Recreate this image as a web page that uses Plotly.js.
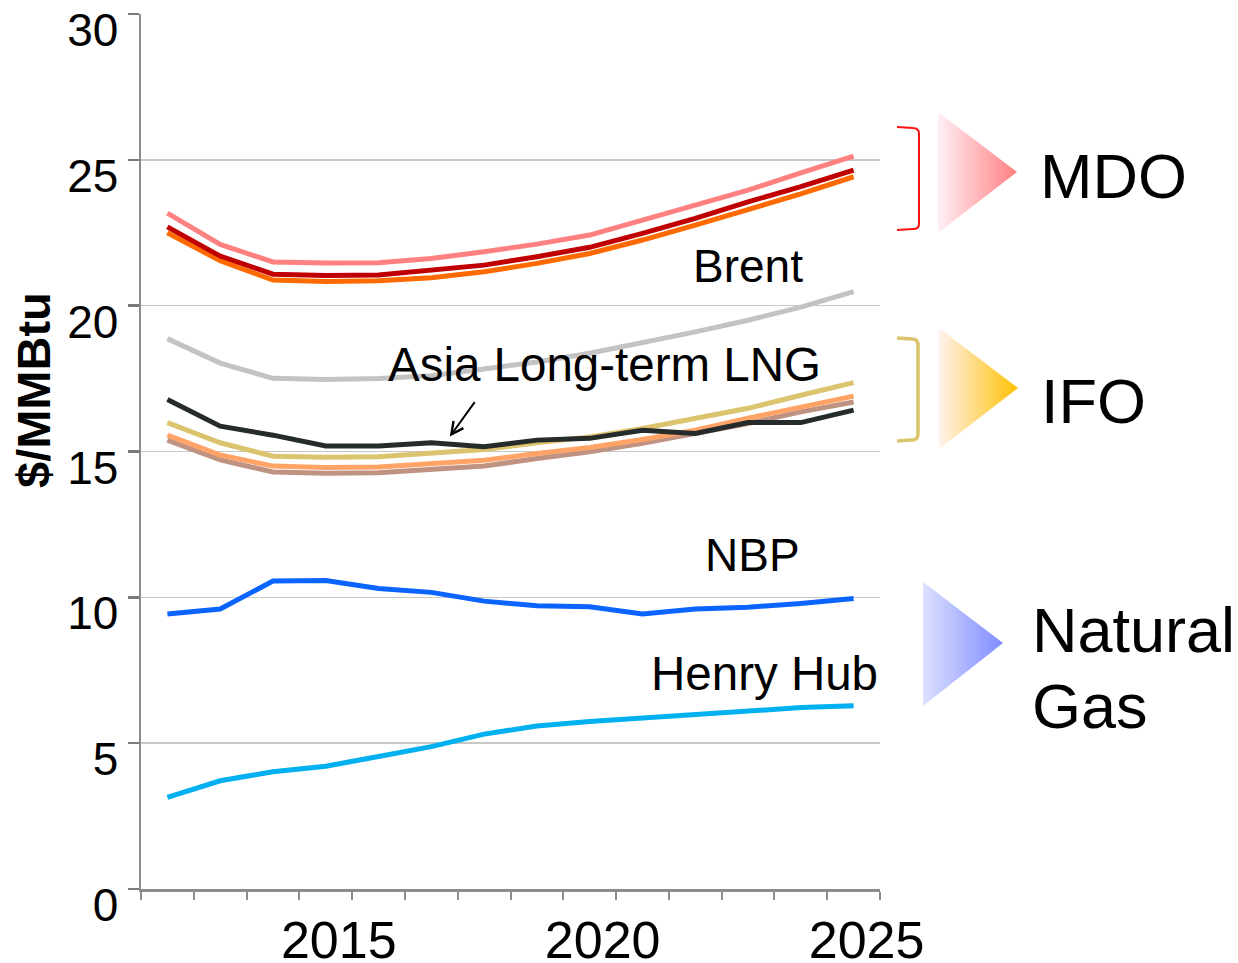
<!DOCTYPE html>
<html>
<head>
<meta charset="utf-8">
<script src="https://cdn.plot.ly/plotly-3.0.1.min.js"></script>
<style>html,body{margin:0;padding:0;background:#fff;}#chart{width:1238px;height:963px;}</style>
</head>
<body>
<div id="chart"></div>
<script>
// ---- data ----
var years = [2012,2013,2014,2015,2016,2017,2018,2019,2020,2021,2022,2023,2024,2025];
var mdoHigh = [23.17,22.1,21.5,21.46,21.47,21.62,21.85,22.11,22.42,22.93,23.45,23.96,24.55,25.13];
var mdoMid  = [22.7,21.7,21.08,21.03,21.05,21.2,21.39,21.68,22.0,22.48,22.99,23.56,24.08,24.65];
var mdoLow  = [22.5,21.54,20.88,20.83,20.85,20.96,21.16,21.45,21.79,22.25,22.76,23.28,23.83,24.42];
var brent   = [18.87,18.03,17.51,17.47,17.5,17.6,17.83,18.07,18.37,18.72,19.1,19.5,19.95,20.48];
var asiaLng = [16.78,15.87,15.56,15.19,15.19,15.3,15.16,15.39,15.45,15.73,15.62,15.99,15.99,16.42];
var ifoHigh = [15.99,15.3,14.84,14.8,14.82,14.93,15.07,15.3,15.5,15.79,16.14,16.48,16.93,17.36];
var ifoMid  = [15.56,14.88,14.5,14.45,14.47,14.57,14.7,14.93,15.14,15.41,15.73,16.14,16.51,16.9];
var ifoLow  = [15.39,14.71,14.3,14.25,14.27,14.37,14.5,14.76,14.99,15.28,15.6,15.96,16.36,16.7];
var nbp     = [9.43,9.6,10.56,10.58,10.3,10.17,9.87,9.71,9.68,9.43,9.6,9.66,9.79,9.96];
var henryHub= [3.14,3.71,4.02,4.21,4.54,4.88,5.31,5.59,5.74,5.85,6.0,6.1,6.22,6.28];
var yearTickVals = [2015,2020,2025];
var yearTickText = ['2015','2020','2025'];
var yTickVals = [0,5,10,15,20,25,30];
var yTickText = ['0','5','10','15','20','25','30'];

var FONT = 'Liberation Sans, Arial, sans-serif';
var W = 1238, H = 963;

function line(name, y, color, xa){
  return {type:'scatter', mode:'lines', name:name, x:years, y:y,
    xaxis: xa || 'x', yaxis:'y',
    line:{color:color, width:5}, hoverinfo:'skip'};
}

// decoration triangles (pixel space subplot x2/y2)
function tri(pts, c0, c1){
  return {type:'scatter', mode:'lines', xaxis:'x2', yaxis:'y2',
    x:[pts[0][0],pts[1][0],pts[2][0],pts[0][0]],
    y:[pts[0][1],pts[1][1],pts[2][1],pts[0][1]],
    fill:'toself', line:{width:0, color:'rgba(0,0,0,0)'},
    fillgradient:{type:'horizontal', colorscale:[[0,c0],[1,c1]]},
    hoverinfo:'skip', showlegend:false};
}

var traces = [
  line('Brent', brent, '#c3c3c3'),
  line('IFO (low)', ifoLow, '#bf9282'),
  line('IFO (mid)', ifoMid, '#ffa466'),
  line('IFO (high)', ifoHigh, '#dcc46e'),
  line('Asia Long-term LNG', asiaLng, '#262b2b'),
  line('MDO (low)', mdoLow, '#ff6a00'),
  line('MDO (mid)', mdoMid, '#c00000'),
  line('MDO (high)', mdoHigh, '#ff8080'),
  line('NBP', nbp, '#0a64ff'),
  line('Henry Hub', henryHub, '#00b0f0', 'x3'),
  tri([[938,112],[1017,172],[938,233]], '#fff0f6', '#ff7f80'),
  tri([[939,328],[1018,388],[939,449]], '#fff2ee', '#ffc000'),
  tri([[923,582],[1003,643],[923,706]], '#dde1ff', '#7f8cff')
];

var tickFontY = {family:FONT, size:46, color:'#000'};
var axisGray = '#8c8c8c';

var layout = {
  width:W, height:H,
  margin:{l:0, r:0, t:0, b:0},
  paper_bgcolor:'#fff', plot_bgcolor:'rgba(0,0,0,0)',
  showlegend:false,
  font:{family:FONT, color:'#000'},
  xaxis:{domain:[141/W, 880/W], range:[2011.5, 2025.5], anchor:'y',
    tickmode:'linear', tick0:2011.5, dtick:1, ticks:'outside', ticklen:8, tickwidth:2, tickcolor:axisGray,
    showticklabels:false, showline:true, linecolor:axisGray, linewidth:2.5,
    showgrid:false, zeroline:false, fixedrange:true},
  xaxis3:{overlaying:'x', anchor:'y', range:[2011.5, 2025.5], matches:'x',
    tickmode:'array', tickvals:yearTickVals, ticktext:yearTickText, ticks:'',
    tickfont:{family:FONT, size:52, color:'#000'}, ticklabelshift:13, ticklabelstandoff:16,
    showline:false, showgrid:false, zeroline:false, fixedrange:true},
  yaxis:{domain:[(H-889)/H, (H-14)/H], range:[0,30], anchor:'x',
    tickmode:'array', tickvals:yTickVals, ticktext:yTickText,
    ticks:'outside', ticklen:11, tickwidth:2.5, tickcolor:'#7a7a7a',
    tickfont:tickFontY, ticklabelshift:16, ticklabelstandoff:0,
    showline:true, linecolor:axisGray, linewidth:2.5,
    showgrid:true, gridcolor:'#c8c8c8', gridwidth:1.5, zeroline:false, fixedrange:true},
  xaxis2:{domain:[0,1], range:[0,W], anchor:'y2', visible:false, fixedrange:true},
  yaxis2:{domain:[0,1], range:[H,0], anchor:'x2', visible:false, fixedrange:true},
  shapes:[
    {type:'path', xref:'x2', yref:'y2', layer:'above',
     path:'M 897,127 L 913,128 Q 919,128 919,134 L 919,224 Q 919,229 913,229 L 897,230',
     line:{color:'#ff1010', width:2}},
    {type:'path', xref:'x2', yref:'y2', layer:'above',
     path:'M 897,338 L 912,339 Q 918,339 918,345 L 918,434 Q 918,440 912,440 L 897,441',
     line:{color:'#dcc46e', width:3.5}}
  ],
  annotations:[
    {xref:'x2', yref:'y2', x:33, y:390, text:'<b>$/MMBtu</b>', textangle:-90, showarrow:false,
     xanchor:'center', yanchor:'middle', font:{family:FONT, size:47, color:'#000'}},
    {xref:'x2', yref:'y2', x:691, y:266, text:'Brent', showarrow:false, xanchor:'left', yanchor:'middle',
     font:{family:FONT, size:46}},
    {xref:'x2', yref:'y2', x:386, y:364, text:'Asia Long-term LNG', showarrow:false, xanchor:'left', yanchor:'middle',
     font:{family:FONT, size:47.5}},
    {xref:'x2', yref:'y2', x:703, y:555, text:'NBP', showarrow:false, xanchor:'left', yanchor:'middle',
     font:{family:FONT, size:46}},
    {xref:'x2', yref:'y2', x:649, y:673, text:'Henry Hub', showarrow:false, xanchor:'left', yanchor:'middle',
     font:{family:FONT, size:47.5}},
    {xref:'x2', yref:'y2', x:1038, y:176, text:'MDO', showarrow:false, xanchor:'left', yanchor:'middle',
     font:{family:FONT, size:63}},
    {xref:'x2', yref:'y2', x:1039, y:401, text:'IFO', showarrow:false, xanchor:'left', yanchor:'middle',
     font:{family:FONT, size:63}},
    {xref:'x2', yref:'y2', x:1030, y:630, text:'Natural', showarrow:false, xanchor:'left', yanchor:'middle',
     font:{family:FONT, size:63}},
    {xref:'x2', yref:'y2', x:1030, y:706, text:'Gas', showarrow:false, xanchor:'left', yanchor:'middle',
     font:{family:FONT, size:63}},
    {xref:'x', yref:'y', x:2017.35, y:15.51, ax:26, ay:-36, text:'', showarrow:true,
     arrowhead:5, arrowsize:1.2, arrowwidth:2, arrowcolor:'#000', standoff:0}
  ]
};

Plotly.newPlot('chart', traces, layout, {staticPlot:true, displayModeBar:false});
</script>
</body>
</html>
